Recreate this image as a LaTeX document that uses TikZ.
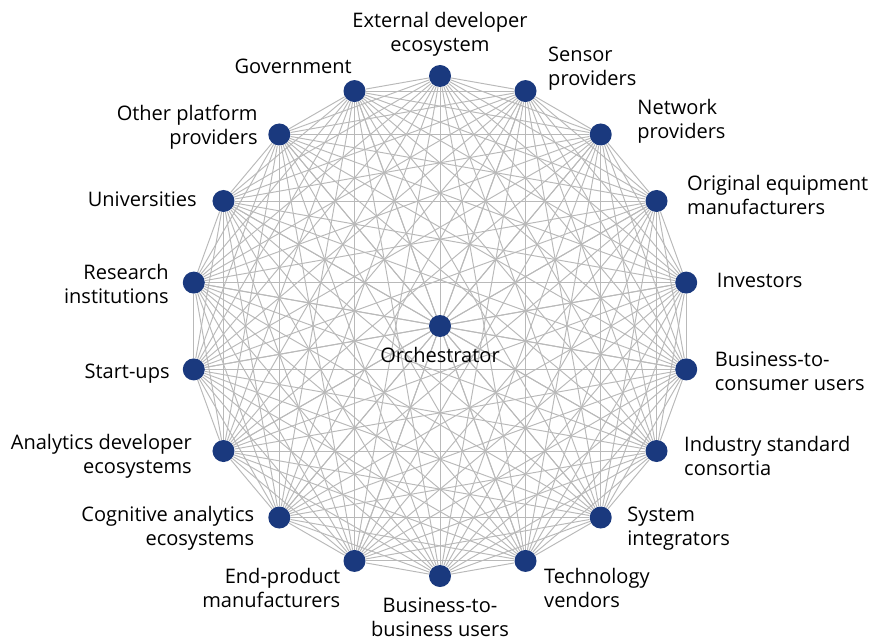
\documentclass[tikz,border=0pt]{standalone}
\usepackage{fontspec}
\setmainfont{Open Sans}
\usetikzlibrary{positioning,backgrounds}
\definecolor{dotblue}{RGB}{26,57,126}
\definecolor{linkgray}{RGB}{185,185,185}

\begin{document}
\begin{tikzpicture}[
  every node/.style={font=\fontsize{11.4}{13.6}\selectfont},
  dot/.style={circle, fill=dotblue, minimum size=0.44cm, inner sep=0pt},
  lab/.style={inner sep=0pt, align=center},
  labl/.style={inner sep=0pt, align=left},
  labr/.style={inner sep=0pt, align=right},
  link/.style={draw=linkgray, line width=0.55pt}
]
  \useasboundingbox (0,0) rectangle (17.42,12.84);
  \coordinate (c) at (8.8,6.32);

  %--- nodes
  \node[dot] (orch) at (c) {};
  \node[dot] (ext)  at ([shift={(90:5)}]c)   {};
  \node[dot] (sens) at ([shift={(70:5)}]c)   {};
  \node[dot] (netw) at ([shift={(50:5)}]c)   {};
  \node[dot] (oem)  at ([shift={(30:5)}]c)   {};
  \node[dot] (inv)  at ([shift={(10:5)}]c)   {};
  \node[dot] (btc)  at ([shift={(-10:5)}]c)  {};
  \node[dot] (isc)  at ([shift={(-30:5)}]c)  {};
  \node[dot] (sysi) at ([shift={(-50:5)}]c)  {};
  \node[dot] (tech) at ([shift={(-70:5)}]c)  {};
  \node[dot] (btb)  at ([shift={(-90:5)}]c)  {};
  \node[dot] (endp) at ([shift={(-110:5)}]c) {};
  \node[dot] (cogn) at ([shift={(-130:5)}]c) {};
  \node[dot] (anad) at ([shift={(-150:5)}]c) {};
  \node[dot] (strt) at ([shift={(-170:5)}]c) {};
  \node[dot] (resi) at ([shift={(170:5)}]c)  {};
  \node[dot] (univ) at ([shift={(150:5)}]c)  {};
  \node[dot] (othp) at ([shift={(130:5)}]c)  {};
  \node[dot] (gov)  at ([shift={(110:5)}]c)  {};

  %--- labels
  \node[lab, below=0.2cm of orch] {Orchestrator};
  \node[lab, above=0.16cm of ext] {External developer\\ecosystem};
  \node[labl, right=0.22cm of sens, yshift=0.45cm] {Sensor\\providers};
  \node[labl, right=0.5cm of netw, yshift=0.27cm] {Network\\providers};
  \node[labl, right=0.38cm of oem, yshift=0.12cm] {Original equipment\\manufacturers};
  \node[labl, right=0.38cm of inv, yshift=0.04cm] {Investors};
  \node[labl, right=0.34cm of btc, yshift=-0.04cm] {Business-to-\\consumer users};
  \node[labl, right=0.32cm of isc, yshift=-0.1cm] {Industry standard\\consortia};
  \node[labl, right=0.3cm of sysi, yshift=-0.22cm] {System\\integrators};
  \node[labl, right=0.14cm of tech, yshift=-0.55cm] {Technology\\vendors};
  \node[lab, below=0.2cm of btb] {Business-to-\\business users};
  \node[labr, left=0.05cm of endp, yshift=-0.55cm] {End-product\\manufacturers};
  \node[labr, left=0.27cm of cogn, yshift=-0.21cm] {Cognitive analytics\\ecosystems};
  \node[labr, left=0.4cm of anad, yshift=-0.1cm] {Analytics developer\\ecosystems};
  \node[labr, left=0.25cm of strt, yshift=-0.08cm] {Start-ups};
  \node[labr, left=0.27cm of resi, yshift=-0.02cm] {Research\\institutions};
  \node[labr, left=0.3cm of univ, yshift=0.04cm] {Universities};
  \node[labr, left=0.2cm of othp, yshift=0.15cm] {Other platform\\providers};
  \node[labr, left=-0.18cm of gov, yshift=0.49cm] {Government};

  %--- every member linked to every other
  \def\members{orch,ext,sens,netw,oem,inv,btc,isc,sysi,tech,btb,endp,cogn,anad,strt,resi,univ,othp,gov}
  \begin{scope}[on background layer]
    \foreach \a [count=\i] in \members {
      \foreach \b [count=\j] in \members {
        \ifnum\i<\j \draw[link] (\a) -- (\b); \fi
      }
    }
  \end{scope}
\end{tikzpicture}
\end{document}
